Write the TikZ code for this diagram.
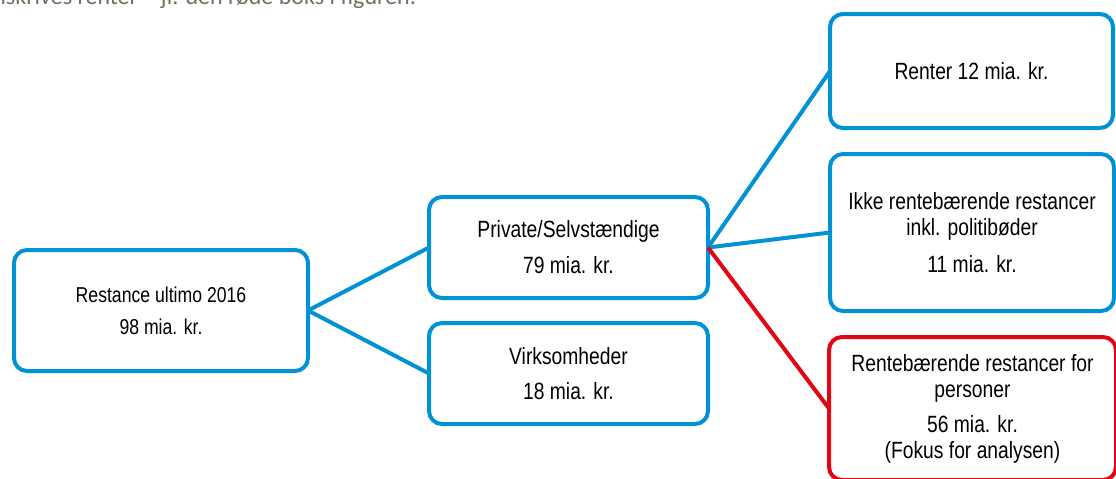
\documentclass[tikz,border=0pt]{standalone}
\usepackage{fontspec}
\setmainfont{Liberation Sans}
\newfontfamily\boxfont{Liberation Sans}[FakeStretch=0.82]
\newfontfamily\notefont{Carlito}
\definecolor{boxblue}{RGB}{0,146,212}
\definecolor{boxred}{RGB}{226,6,19}
\definecolor{notegray}{RGB}{112,112,92}
\tikzset{
  bx/.style={draw=boxblue, line width=4pt, rounded corners=13pt, rectangle,
    inner sep=0pt, outer sep=0pt, fill=white, align=center,
    font=\boxfont\fontsize{23.5}{26}\selectfont},
  bxred/.style={bx, draw=boxred},
  conn/.style={draw=boxblue, line width=4pt},
  connred/.style={draw=boxred, line width=4pt},
}
\begin{document}
\begin{tikzpicture}[x=1pt,y=-1pt]
\clip (0,0) rectangle (1116,479);
\fill[white] (0,0) rectangle (1116,479);
\node[anchor=base east, inner sep=0pt, text=notegray, font=\notefont\fontsize{24}{28}\selectfont] (note) at (416,4.5) {tilskrives renter – jf. den røde boks i figuren.};
\node[bx, minimum width=294pt, minimum height=121pt, font=\boxfont\fontsize{21.5}{23.5}\selectfont] (b1) at (161,310.5) {Restance ultimo 2016\\[8.5pt]98 mia. kr.};
\node[bx, minimum width=279pt, minimum height=101pt] (b2) at (568.5,247.5) {Private/Selvstændige\\[10pt]79 mia. kr.};
\node[bx, minimum width=279pt, minimum height=101pt] (b3) at (568.5,373.5) {Virksomheder\\[9pt]18 mia. kr.};
\node[bx, minimum width=283pt, minimum height=114pt] (b4) at (971.5,71) {Renter 12 mia. kr.};
\node[bx, minimum width=284pt, minimum height=157pt] (b5) at (972,232.5) {Ikke rentebærende restancer\\inkl. politibøder\\[11pt]11 mia. kr.};
\node[bxred, minimum width=287pt, minimum height=143pt] (b6) at (972.5,408.5) {Rentebærende restancer for\\personer\\[9pt]56 mia. kr.\\(Fokus for analysen)};
\draw[conn] (b1.east) -- (b2.west);
\draw[conn] (b1.east) -- (b3.west);
\draw[conn] (b2.east) -- (b4.west);
\draw[conn] (b2.east) -- (b5.west);
\draw[connred] (b2.east) -- (b6.west);
\end{tikzpicture}
\end{document}
